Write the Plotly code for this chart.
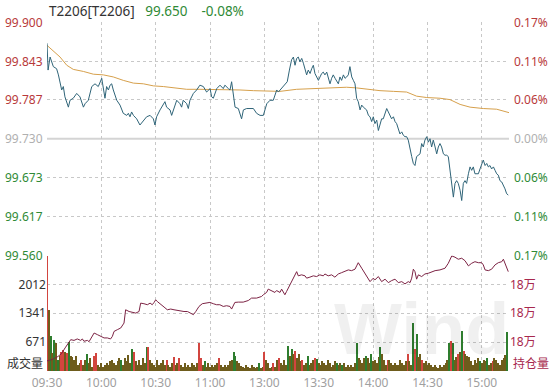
import plotly.graph_objects as go

# ---------------- data ----------------
title_code = "T2206[T2206]"
last_price = "99.650"
last_change = "-0.08%"
prev_settle = 99.730

time_ticks = [0, 30, 60, 90, 120, 150, 180, 210, 240]          # trading minutes since 09:30
time_labels = ["09:30", "10:00", "10:30", "11:00", "13:00", "13:30", "14:00", "14:30", "15:00"]
session_len = 255

price_ticks = [99.900, 99.843, 99.787, 99.730, 99.673, 99.617, 99.560]
price_tick_text = ["99.900", "99.843", "99.787", "99.730", "99.673", "99.617", "99.560"]
pct_labels = ["0.17%", "0.11%", "0.06%", "0.00%", "0.06%", "0.11%", "0.17%"]

vol_ticks = [671, 1341, 2012]
vol_max = 2683
oi_ticks = [179600, 179800, 180000]
oi_tick_text = ["18万", "18万", "18万"]
oi_range = [179400, 180200]

# price (trading minute, price)
price_t = [0.0, 0.6, 1.7, 3.5, 5.3, 6.3, 8.1, 9.0, 9.9, 11.8, 12.7, 14.5, 16.4, 18.2, 20.1, 21.0,
           22.8, 24.7, 26.5, 28.3, 30.2, 31.1, 32.0, 32.9, 33.9, 34.8, 35.7, 36.6, 38.5, 40.3, 42.1,
           44.0, 44.9, 45.8, 46.7, 47.7, 49.5, 51.3, 53.2, 55.0, 56.9, 58.7, 59.6, 60.5, 62.4, 64.2,
           65.1, 66.0, 67.9, 68.8, 69.7, 71.6, 73.4, 74.3, 75.2, 77.1, 78.0, 78.9, 80.8, 82.6, 84.4,
           86.3, 88.1, 90.0, 90.9, 91.8, 93.7, 95.5, 97.3, 98.2, 100.1, 101.0, 101.9, 102.8, 103.8,
           105.6, 106.5, 107.4, 108.4, 110.2, 113.9, 115.7, 117.6, 119.4, 121.3, 123.1, 124.9, 126.8,
           127.7, 128.6, 131.4, 132.6, 133.8, 135.0, 136.0, 136.9, 137.8, 138.7, 139.6, 140.6, 141.5,
           142.4, 143.3, 144.2, 145.2, 146.1, 147.0, 147.9, 148.8, 149.8, 150.7, 151.6, 152.5, 153.4,
           154.4, 155.3, 156.2, 157.1, 158.0, 159.0, 159.9, 160.8, 161.7, 162.6, 163.6, 164.5, 165.4,
           166.3, 167.2, 168.2, 169.1, 170.0, 170.9, 171.8, 172.8, 173.7, 174.6, 175.5, 176.4, 177.4,
           178.3, 179.2, 180.1, 181.0, 182.0, 182.9, 183.8, 184.7, 185.6, 186.6, 187.5, 188.4, 189.3,
           190.2, 191.2, 192.1, 193.0, 193.9, 194.8, 195.8, 196.7, 197.6, 198.5, 199.4, 200.4, 201.3,
           202.2, 203.1, 204.0, 205.0, 205.9, 206.8, 207.7, 208.6, 209.6, 210.5, 211.4, 212.3, 213.2,
           214.2, 215.1, 216.0, 216.9, 217.8, 218.8, 219.7, 220.6, 221.5, 222.4, 223.4, 224.3, 225.2,
           226.1, 227.0, 228.0, 228.9, 229.8, 230.7, 231.6, 232.6, 233.5, 234.4, 235.3, 236.2, 237.2,
           238.1, 239.0, 239.9, 240.8, 241.8, 242.7, 243.6, 244.5, 245.4, 246.4, 247.3, 248.2, 249.1,
           250.0, 251.0, 252.0, 252.8, 253.7, 254.6]
price_v = [99.869, 99.830, 99.849, 99.835, 99.832, 99.823, 99.801, 99.806, 99.791, 99.776, 99.786,
           99.789, 99.796, 99.791, 99.776, 99.781, 99.786, 99.806, 99.810, 99.806, 99.818, 99.803,
           99.789, 99.806, 99.801, 99.808, 99.810, 99.801, 99.786, 99.779, 99.767, 99.764, 99.767,
           99.762, 99.769, 99.764, 99.759, 99.750, 99.757, 99.762, 99.764, 99.759, 99.750, 99.762,
           99.772, 99.779, 99.784, 99.776, 99.772, 99.764, 99.772, 99.786, 99.781, 99.776, 99.786,
           99.781, 99.774, 99.786, 99.796, 99.801, 99.808, 99.806, 99.798, 99.803, 99.791, 99.789,
           99.803, 99.808, 99.803, 99.808, 99.803, 99.801, 99.813, 99.798, 99.776, 99.774, 99.767,
           99.759, 99.772, 99.774, 99.774, 99.767, 99.764, 99.764, 99.781, 99.786, 99.786, 99.801,
           99.798, 99.801, 99.810, 99.813, 99.830, 99.845, 99.849, 99.837, 99.847, 99.849, 99.842,
           99.847, 99.840, 99.830, 99.823, 99.830, 99.825, 99.832, 99.837, 99.825, 99.820, 99.815,
           99.820, 99.825, 99.827, 99.823, 99.827, 99.820, 99.810, 99.818, 99.823, 99.818, 99.813,
           99.810, 99.820, 99.815, 99.823, 99.818, 99.820, 99.823, 99.835, 99.820, 99.815, 99.810,
           99.789, 99.784, 99.772, 99.779, 99.776, 99.774, 99.772, 99.764, 99.762, 99.755, 99.762,
           99.752, 99.757, 99.742, 99.750, 99.759, 99.759, 99.767, 99.774, 99.769, 99.764, 99.759,
           99.762, 99.755, 99.752, 99.745, 99.737, 99.740, 99.735, 99.733, 99.733, 99.728, 99.713,
           99.704, 99.694, 99.691, 99.704, 99.706, 99.708, 99.723, 99.718, 99.728, 99.733, 99.725,
           99.730, 99.718, 99.728, 99.718, 99.708, 99.718, 99.723, 99.718, 99.708, 99.706, 99.706,
           99.704, 99.684, 99.669, 99.645, 99.665, 99.669, 99.665, 99.655, 99.640, 99.665, 99.669,
           99.665, 99.679, 99.689, 99.684, 99.689, 99.679, 99.679, 99.679, 99.686, 99.694, 99.699,
           99.691, 99.694, 99.689, 99.691, 99.686, 99.689, 99.684, 99.679, 99.677, 99.669, 99.667,
           99.662, 99.657, 99.650, 99.648]

# average price line
avg_t = [0.0, 3.5, 7.2, 10.9, 14.5, 20.1, 25.6, 31.1, 36.6, 42.1, 47.7, 53.2, 58.7, 64.2, 69.7,
         77.1, 84.4, 91.8, 99.2, 106.5, 113.9, 121.3, 128.6, 137.8, 147.0, 156.2, 165.4, 170.9,
         176.4, 183.8, 191.2, 198.5, 204.0, 209.6, 216.9, 222.4, 228.0, 233.5, 240.8, 248.2, 255.0]
avg_v = [99.866, 99.857, 99.849, 99.837, 99.831, 99.828, 99.824, 99.823, 99.820, 99.815, 99.811,
         99.810, 99.807, 99.806, 99.804, 99.802, 99.802, 99.802, 99.802, 99.801, 99.800, 99.799,
         99.799, 99.802, 99.803, 99.804, 99.805, 99.804, 99.802, 99.800, 99.799, 99.798, 99.792,
         99.790, 99.789, 99.787, 99.780, 99.776, 99.774, 99.773, 99.768]

# open interest line
oi_t = [0, 3, 6, 8, 10, 11.6, 13.1, 14.9, 16.7, 18.6, 19.5, 20.4, 22.3, 23.2, 25.0, 26.0, 27.8,
        29.6, 31.5, 33.3, 35.1, 36.1, 37.0, 38.8, 40.7, 42.5, 43.4, 45.3, 47.1, 49.0, 50.8, 51.7,
        53.5, 55.4, 56.9, 58.1, 59.1, 60.0, 60.9, 61.8, 62.7, 64.6, 66.4, 68.3, 70.1, 71.9, 73.8,
        75.6, 77.5, 79.3, 80.8, 82.1, 83.9, 85.7, 88.1, 89.9, 91.8, 93.6, 95.4, 97.3, 99.1, 101.0,
        101.9, 102.8, 103.7, 105.6, 108.3, 111.1, 112.9, 115.7, 118.4, 119.4, 121.2, 122.1, 124.0,
        125.8, 126.7, 128.6, 129.5, 131.3, 132.2, 133.2, 135.0, 136.8, 137.8, 138.7, 140.5, 142.4,
        143.3, 145.1, 147.0, 148.8, 150.6, 152.5, 153.4, 155.2, 157.1, 158.9, 160.8, 162.6, 164.4,
        166.3, 168.1, 170.0, 170.9, 171.8, 173.7, 175.5, 177.4, 178.3, 180.1, 181.0, 182.9, 184.7,
        186.6, 188.4, 190.2, 192.1, 193.9, 195.8, 197.6, 199.4, 200.4, 201.3, 202.2, 203.1, 204.0,
        205.0, 206.8, 208.6, 210.5, 212.3, 214.2, 216.9, 219.7, 221.5, 223.4, 225.2, 227.0, 228.9,
        230.7, 232.6, 234.4, 236.2, 238.1, 239.9, 240.8, 241.8, 243.6, 245.4, 247.3, 249.1, 251.0,
        251.9, 252.8, 253.7, 254.6]
oi_v = [179470, 179480, 179500, 179520, 179560, 179594, 179617, 179612, 179622, 179612, 179622,
        179606, 179612, 179603, 179636, 179663, 179652, 179640, 179629, 179629, 179622, 179640,
        179674, 179686, 179698, 179732, 179824, 179812, 179806, 179801, 179812, 179870, 179866,
        179859, 179870, 179859, 179875, 179893, 179881, 179870, 179866, 179843, 179824, 179829,
        179824, 179819, 179819, 179812, 179812, 179801, 179790, 179812, 179847, 179866, 179870,
        179875, 179866, 179859, 179859, 179847, 179852, 179847, 179829, 179852, 179875, 179877,
        179877, 179888, 179905, 179905, 179916, 179928, 179944, 179967, 179957, 179944, 179957,
        179944, 179967, 179928, 179950, 179974, 180012, 180066, 180088, 180059, 180066, 180059,
        180043, 180050, 180059, 180054, 180066, 180059, 180072, 180059, 180066, 180050, 180072,
        180081, 180088, 180100, 180095, 180105, 180128, 180150, 180112, 180077, 180043, 180019,
        180043, 180031, 180054, 180019, 180036, 180012, 180026, 180036, 180012, 180019, 180003,
        180019, 180012, 180043, 180105, 180088, 180036, 180066, 180054, 180072, 180077, 180088,
        180095, 180100, 180112, 180146, 180197, 180188, 180174, 180181, 180164, 180128, 180146,
        180157, 180150, 180150, 180135, 180100, 180095, 180105, 180135, 180150, 180157, 180174,
        180146, 180112, 180088]

# volume per minute (minute 0 .. 254)
volume = [2650, 1400, 800, 400, 710, 630, 250, 340, 440, 480, 440, 400, 670, 340, 320,
          250, 340, 130, 170, 250, 130, 250, 385, 170, 285, 90, 340, 400, 130, 90,
          170, 90, 130, 185, 130, 210, 250, 170, 130, 210, 285, 250, 130, 285, 210,
          360, 170, 510, 440, 210, 130, 250, 130, 285, 170, 555, 540, 250, 170, 130,
          90, 250, 130, 170, 250, 130, 250, 130, 90, 170, 320, 130, 170, 285, 130,
          90, 170, 90, 130, 90, 170, 130, 90, 170, 650, 285, 130, 210, 90, 170,
          90, 130, 90, 130, 170, 290, 130, 90, 130, 90, 130, 210, 250, 420, 330,
          210, 170, 100, 90, 70, 130, 90, 70, 130, 90, 70, 90, 170, 70, 90,
          420, 250, 170, 70, 90, 170, 90, 250, 285, 170, 130, 250, 130, 580, 340,
          500, 385, 460, 300, 385, 230, 250, 130, 170, 345, 130, 170, 250, 285, 270,
          170, 130, 210, 170, 130, 250, 170, 90, 130, 210, 170, 130, 170, 130, 170,
          90, 130, 90, 130, 90, 170, 650, 285, 250, 170, 285, 345, 285, 170, 385,
          210, 250, 170, 320, 540, 385, 250, 130, 250, 250, 170, 130, 170, 130, 130,
          250, 170, 130, 210, 385, 210, 130, 1110, 500, 850, 320, 385, 250, 170, 210,
          130, 170, 130, 90, 130, 90, 70, 130, 90, 130, 170, 250, 650, 690, 650,
          250, 320, 385, 420, 925, 460, 385, 345, 320, 210, 130, 250, 170, 285, 210,
          170, 250, 210, 285, 130, 170, 210, 285, 250, 170, 130, 250, 285, 350, 900]
# bar colour code per minute: r = up, g = down, o = unchanged
vol_dir_rows = ["rogogogorrorgoo", "ooooroogooorroo", "ooooooooooogooo", "oogroooooogrooo",
                "oooooorooorooro", "ooooooooorrogoo", "ooooorooooooogg", "oooooooooooogoo",
                "roooorooroooogo", "goroooroogooorg", "oooooooooogoogo", "oooooogoooogoog",
                "oooogoooroooooo", "ooooroogrgooroo", "oooooooooooogrg", "oorogroooooooog",
                "ooogoorooooooog"]
vol_dir = "".join(vol_dir_rows)
vol_minutes = list(range(len(volume)))

# ---------------- styling ----------------
FONT = "Noto Sans, Noto Sans CJK SC, sans-serif"
RED = "#b8393a"
GREEN = "#2f8a36"
GRAY = "#b0b0b0"
GRID = "#c8c8c8"
PRICE_COLOR = "#2f6478"
AVG_COLOR = "#d6a04c"
OI_COLOR = "#7c2344"
BAR_COLORS = {"r": "#d2453f", "g": "#2e7d2e", "o": "#6e5c1c"}

price_bottom = 0.331

fig = go.Figure()

fig.add_trace(go.Bar(x=vol_minutes, y=volume, width=0.6,
                     marker=dict(color=[BAR_COLORS.get(c, BAR_COLORS["o"]) for c in vol_dir],
                                 line=dict(width=0)),
                     xaxis="x2", yaxis="y3", showlegend=False, hoverinfo="skip"))
fig.add_trace(go.Scatter(x=oi_t, y=oi_v, mode="lines", line=dict(color=OI_COLOR, width=1),
                         xaxis="x2", yaxis="y4", showlegend=False, hoverinfo="skip"))
fig.add_trace(go.Scatter(x=avg_t, y=avg_v, mode="lines", line=dict(color=AVG_COLOR, width=1),
                         xaxis="x", yaxis="y", showlegend=False, hoverinfo="skip"))
fig.add_trace(go.Scatter(x=price_t, y=price_v, mode="lines", line=dict(color=PRICE_COLOR, width=1),
                         xaxis="x", yaxis="y", showlegend=False, hoverinfo="skip"))

fig.add_hline(y=prev_settle, line=dict(color="#d4d4d4", width=2), layer="below")

grid_x = time_ticks + [session_len]
common_x = dict(range=[0, session_len], tickvals=grid_x, showgrid=True, gridcolor=GRID,
                griddash="dot", gridwidth=1, zeroline=False, showline=False, ticks="",
                automargin=False)
fig.update_layout(
    width=551, height=392,
    margin=dict(l=47, r=42, t=22, b=21, autoexpand=False),
    paper_bgcolor="white", plot_bgcolor="white",
    font=dict(family=FONT, size=12, color="#333"),
    bargap=0,
    xaxis=dict(**common_x, domain=[0, 1], anchor="y", showticklabels=False),
    xaxis2=dict(**common_x, domain=[0, 1], anchor="y3", matches="x",
                ticktext=time_labels + [""], showticklabels=True, ticklabelstandoff=3,
                tickfont=dict(color="#a0a0a0", size=12)),
    yaxis=dict(domain=[price_bottom, 1], range=[price_ticks[-1], price_ticks[0]],
               tickvals=[v for v in price_ticks if v != prev_settle],
               showgrid=True, gridcolor=GRID, griddash="dot", zeroline=False,
               showticklabels=False, ticks="", automargin=False),
    yaxis3=dict(domain=[0, price_bottom], range=[0, vol_max], tickvals=vol_ticks + [vol_max],
                ticktext=[str(v) for v in vol_ticks] + [""],
                showgrid=True, gridcolor=GRID, griddash="dot", zeroline=False, ticks="",
                tickfont=dict(color="#333", size=12), anchor="x2", side="left",
                automargin=False),
    yaxis4=dict(overlaying="y3", side="right", range=oi_range, tickvals=oi_ticks,
                ticktext=oi_tick_text, showgrid=False, zeroline=False, ticks="",
                tickfont=dict(color="#a8284e", size=12), anchor="x2", automargin=False),
)

anns = []
# header
anns.append(dict(xref="paper", yref="paper", x=0, y=1, xanchor="left", yanchor="middle", yshift=11,
                 text=f"{title_code}&nbsp;&nbsp;&nbsp;<span style='color:{GREEN}'>{last_price}</span>"
                      f"&nbsp;&nbsp;&nbsp;&nbsp;<span style='color:{GREEN}'>{last_change}</span>",
                 showarrow=False, font=dict(size=13.5, color="#333", family=FONT)))
# price and percent labels
for v, txt, pct in zip(price_ticks, price_tick_text, pct_labels):
    col = RED if v > prev_settle else (GREEN if v < prev_settle else GRAY)
    anns.append(dict(xref="paper", yref="y", x=0, y=v, xanchor="right", yanchor="middle",
                     xshift=-2, text=txt, showarrow=False, font=dict(size=12, color=col)))
    anns.append(dict(xref="paper", yref="y", x=1, y=v, xanchor="left", yanchor="middle",
                     xshift=3, text=pct, showarrow=False, font=dict(size=12, color=col)))
# panel labels
anns.append(dict(xref="paper", yref="y3", x=0, y=0, xanchor="right", yanchor="bottom", xshift=-2,
                 yshift=-3, text="成交量", showarrow=False, font=dict(size=12, color="#333")))
anns.append(dict(xref="paper", yref="y3", x=1, y=0, xanchor="left", yanchor="bottom", xshift=2,
                 yshift=-3, text="持仓量", showarrow=False, font=dict(size=12, color="#a8284e")))
# watermark (kept inside the plot area)
anns.append(dict(xref="paper", yref="paper", x=0.81, y=0, xanchor="center", yanchor="bottom",
                 text="<b>Wind</b>", showarrow=False,
                 font=dict(size=72, color="rgba(0,0,0,0.06)", family="Liberation Sans, Arial")))
fig.update_layout(annotations=anns)

# remove the browser's default 8px page margin so the 551x392 figure fills the window
fig.write_html("out.html", config={"displayModeBar": False},
               post_script="document.body.style.margin='0';")
